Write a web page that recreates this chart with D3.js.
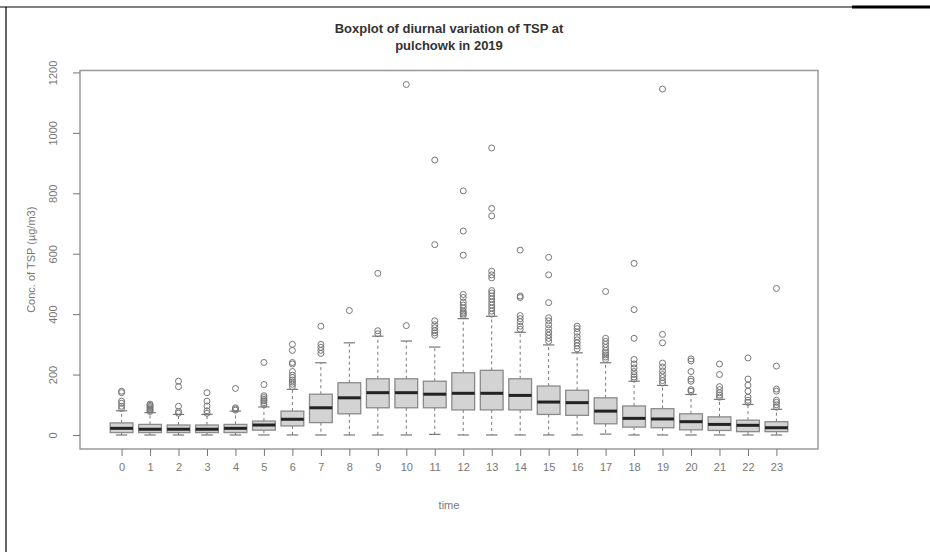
<!DOCTYPE html>
<html>
<head>
<meta charset="utf-8">
<script src="https://cdn.jsdelivr.net/npm/d3@7"></script>
<style>
  html, body { margin: 0; padding: 0; background: #fff; }
  svg { display: block; font-family: "Liberation Sans", Arial, Helvetica, sans-serif; }
</style>
</head>
<body>
<svg id="chart" width="930" height="552"></svg>
<script>
// ---- data ----
const hours = ["0","1","2","3","4","5","6","7","8","9","10","11","12","13","14","15","16","17","18","19","20","21","22","23"];
const q1        = [8, 8, 8, 8, 8, 16, 30, 41, 70, 90, 90, 90, 83, 83, 83, 68, 65, 37, 26, 24, 17, 15, 11, 11];
const medians   = [22, 19, 19, 19, 22, 33, 52, 90, 123, 140, 140, 135, 138, 138, 131, 109, 107, 79, 55, 53, 44, 35, 32, 24];
const q3        = [40, 35, 33, 33, 35, 46, 79, 135, 173, 186, 186, 178, 206, 214, 186, 162, 148, 123, 96, 87, 70, 60, 49, 44];
const whiskLow  = [0, 0, 0, 0, 0, 0, 0, 0, 0, 0, 0, 2, 0, 0, 0, 0, 0, 3, 0, 0, 0, 0, 0, 0];
const whiskHigh = [80, 74, 68, 68, 79, 93, 151, 239, 305, 327, 311, 291, 385, 393, 340, 298, 272, 239, 178, 164, 134, 118, 101, 85];
const outliers = [
  [88, 95, 105, 112, 140, 145],
  [78, 82, 86, 90, 94, 98, 102],
  [72, 78, 95, 160, 178],
  [72, 80, 96, 112, 140],
  [82, 86, 90, 154],
  [100, 107, 113, 118, 124, 130, 167, 240],
  [160, 168, 175, 182, 190, 198, 210, 235, 240, 280, 300],
  [270, 280, 290, 300, 360],
  [412],
  [335, 345, 535],
  [362, 1160],
  [330, 338, 345, 355, 365, 378, 630, 910],
  [395, 400, 405, 410, 420, 430, 440, 455, 465, 595, 675, 808],
  [400, 410, 420, 430, 440, 450, 460, 470, 478, 520, 530, 542, 725, 750, 950],
  [350, 360, 375, 385, 395, 455, 460, 612],
  [310, 320, 330, 340, 352, 365, 378, 388, 438, 530, 588],
  [285, 295, 305, 315, 325, 340, 352, 360],
  [250, 258, 265, 272, 280, 290, 300, 310, 320, 475],
  [185, 192, 200, 210, 222, 235, 250, 320, 415, 568],
  [172, 180, 190, 200, 212, 225, 238, 305, 333, 1145],
  [145, 150, 178, 185, 210, 245, 252],
  [125, 132, 140, 150, 160, 200, 235],
  [108, 115, 125, 145, 165, 185, 255],
  [92, 100, 108, 115, 145, 152, 228, 485]
];
const yTicks = [0, 200, 400, 600, 800, 1000, 1200];
const titleLines = ["Boxplot of diurnal variation of TSP at", "pulchowk in 2019"];
const xLabel = "time";
const yLabel = "Conc. of TSP (\u00b5g/m3)";

// ---- layout ----
const svg = d3.select("#chart");
const plot = { left: 80, right: 818, top: 70.5, bottom: 449 };

const x = d3.scaleLinear().domain([-1.46, hours.length + 0.46]).range([plot.left, plot.right]);
const y = d3.scaleLinear().domain([-46.4, 1206.4]).range([plot.bottom, plot.top]);
const step = x(1) - x(0);
const boxW = step * 0.8;
const capW = boxW * 0.5;

// page frame lines (document border)
svg.append("line").attr("x1", 0).attr("x2", 930).attr("y1", 7).attr("y2", 7)
  .attr("stroke", "#000").attr("stroke-width", 1.2);
svg.append("line").attr("x1", 852).attr("x2", 930).attr("y1", 7).attr("y2", 7)
  .attr("stroke", "#000").attr("stroke-width", 3);
svg.append("line").attr("x1", 6).attr("x2", 6).attr("y1", 7).attr("y2", 552)
  .attr("stroke", "#000").attr("stroke-width", 1.2);

const g = svg.append("g");
const lineCol = "#777";

hours.forEach((h, i) => {
  const cx = x(i);
  const grp = g.append("g");
  // whiskers (dashed)
  grp.append("line").attr("x1", cx).attr("x2", cx)
    .attr("y1", y(q3[i])).attr("y2", y(whiskHigh[i]))
    .attr("stroke", lineCol).attr("stroke-width", 1).attr("stroke-dasharray", "3,3");
  grp.append("line").attr("x1", cx).attr("x2", cx)
    .attr("y1", y(q1[i])).attr("y2", y(whiskLow[i]))
    .attr("stroke", lineCol).attr("stroke-width", 1).attr("stroke-dasharray", "3,3");
  // caps
  [whiskHigh[i], whiskLow[i]].forEach(v => {
    grp.append("line").attr("x1", cx - capW / 2).attr("x2", cx + capW / 2)
      .attr("y1", y(v)).attr("y2", y(v))
      .attr("stroke", lineCol).attr("stroke-width", 1.2);
  });
  // box
  grp.append("rect").attr("x", cx - boxW / 2).attr("width", boxW)
    .attr("y", y(q3[i])).attr("height", y(q1[i]) - y(q3[i]))
    .attr("fill", "#d3d3d3").attr("stroke", "#8a8a8a").attr("stroke-width", 1.3);
  // median
  grp.append("line").attr("x1", cx - boxW / 2).attr("x2", cx + boxW / 2)
    .attr("y1", y(medians[i])).attr("y2", y(medians[i]))
    .attr("stroke", "#222").attr("stroke-width", 3);
  // outliers
  grp.selectAll("circle.out").data(outliers[i]).enter().append("circle")
    .attr("class", "out")
    .attr("cx", cx).attr("cy", d => y(d)).attr("r", 3)
    .attr("fill", "none").attr("stroke", "#777").attr("stroke-width", 1);
});

// frame
svg.append("rect").attr("x", plot.left).attr("y", plot.top)
  .attr("width", plot.right - plot.left).attr("height", plot.bottom - plot.top)
  .attr("fill", "none").attr("stroke", "#999").attr("stroke-width", 1.5);

// x axis
const xAxis = d3.axisBottom(x).tickValues(d3.range(hours.length))
  .tickFormat(i => hours[i]).tickSize(7).tickPadding(7);
const xg = svg.append("g").attr("transform", `translate(0,${plot.bottom})`).call(xAxis);
xg.select(".domain").remove();
xg.selectAll("line").attr("stroke", "#777");
xg.selectAll("text").attr("fill", "#777").attr("font-size", 11)
  .attr("font-family", "Liberation Sans, Arial, sans-serif");

// y axis
const yAxis = d3.axisLeft(y).tickValues(yTicks).tickSize(7).tickPadding(0).tickFormat(d3.format("d"));
const yg = svg.append("g").attr("transform", `translate(${plot.left},0)`).call(yAxis);
yg.select(".domain").remove();
yg.selectAll("line").attr("stroke", "#777");
yg.selectAll("text")
  .attr("fill", "#777").attr("font-size", 11)
  .attr("font-family", "Liberation Sans, Arial, sans-serif")
  .attr("x", null).attr("dy", null)
  .attr("text-anchor", "middle")
  .attr("transform", "translate(-27,0) rotate(-90)")
  .attr("dy", "0.35em");

// title
svg.append("text").attr("x", (plot.left + plot.right) / 2).attr("y", 33)
  .attr("text-anchor", "middle").attr("font-size", 13).attr("font-weight", "bold").attr("fill", "#333")
  .selectAll("tspan").data(titleLines).enter().append("tspan")
  .attr("x", (plot.left + plot.right) / 2).attr("dy", (d, i) => i === 0 ? 0 : 17).text(d => d);

// axis titles
svg.append("text").attr("x", (plot.left + plot.right) / 2).attr("y", 509)
  .attr("text-anchor", "middle").attr("font-size", 11).attr("fill", "#777").text(xLabel);
svg.append("text").attr("transform", `translate(35,${(plot.top + plot.bottom) / 2}) rotate(-90)`)
  .attr("text-anchor", "middle").attr("font-size", 11).attr("fill", "#777").text(yLabel);
</script>
</body>
</html>
